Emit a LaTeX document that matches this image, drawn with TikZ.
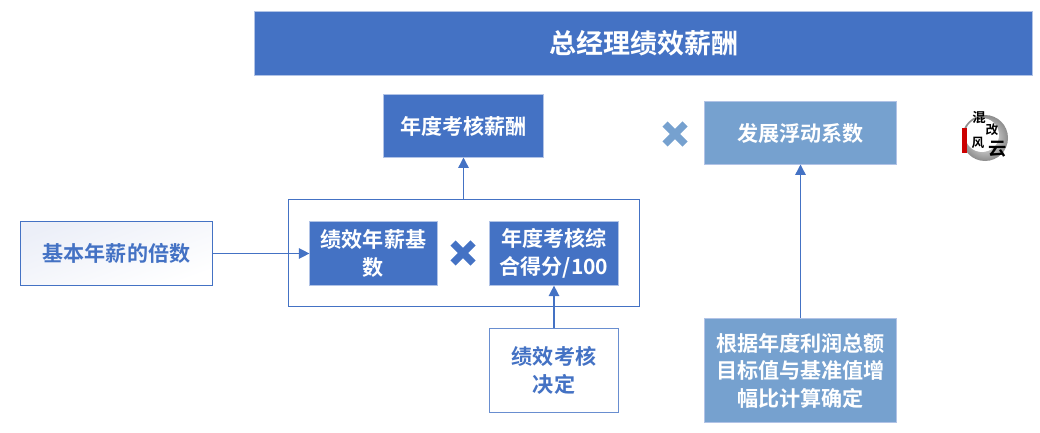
\documentclass[tikz,border=0pt]{standalone}
\usepackage{fontspec}
\setmainfont{Noto Sans CJK SC}[BoldFont={Noto Sans CJK SC Bold}]
\usetikzlibrary{arrows.meta}
\definecolor{darkblue}{HTML}{4472C4}
\definecolor{lightblue}{HTML}{76A1CF}
\definecolor{edgeblue}{HTML}{8FAADC}
\definecolor{paleblue}{HTML}{ECEFF8}
\tikzset{
	box/.style={draw=#1, line width=0.7pt, align=center, inner sep=0pt, font=\fontsize{15}{19.5}\selectfont\bfseries},
	solidbox/.style={box=edgeblue!70, fill=darkblue, text=white},
	floatbox/.style={box=edgeblue!70, fill=lightblue, text=white},
	plainbox/.style={box=darkblue!80, fill=white, text=darkblue},
	link/.style={draw=darkblue, line width=1pt, -{Triangle[length=2.6mm,width=2.6mm]}},
	times/.style={line width=5.2pt, color=#1},
	logotext/.style={text=black, inner sep=0pt, font=\fontsize{#1}{#1}\selectfont\bfseries}
}
\def\timesmark[#1](#2,#3){\draw[times=#1] (#2-10,#3-10) -- (#2+10,#3+10) (#2-10,#3+10) -- (#2+10,#3-10);}
\begin{document}
\begin{tikzpicture}[x=0.025cm, y=-0.025cm]
		%%%%% START %%%%%
		\useasboundingbox (0,0) rectangle (1040,433);
		
		\node[solidbox, minimum width=19.43cm, minimum height=1.58cm, font=\fontsize{19.2}{24}\selectfont\bfseries] (title) at (643.5,43.5) {总经理绩效薪酬};
		
		\node[solidbox, minimum width=3.98cm, minimum height=1.55cm] (annual) at (463.5,126) {年度考核薪酬};
		\node[floatbox, minimum width=4.78cm, minimum height=1.55cm] (float) at (800.5,133) {发展浮动系数};
		\timesmark[lightblue](675,134);
		
		\node[draw=darkblue, line width=0.7pt, minimum width=8.75cm, minimum height=2.65cm, inner sep=0pt] (outer) at (464,253) {};
		\node[box=darkblue, left color=paleblue, right color=white, shading angle=20, text=darkblue, minimum width=4.78cm, minimum height=1.58cm] (times) at (116.5,253.5) {基本年薪的倍数};
		\node[solidbox, minimum width=3.18cm, minimum height=1.58cm] (base) at (373.5,253.5) {绩效年薪基\\数};
		\timesmark[darkblue](463,253);
		\node[solidbox, minimum width=3.2cm, minimum height=1.58cm] (score) at (554,253.5) {年度考核综\\合得分/100};
		\node[plainbox, minimum width=3.2cm, minimum height=2.12cm] (decide) at (554,370.5) {绩效考核\\决定};
		\node[floatbox, minimum width=4.78cm, minimum height=2.62cm] (profit) at (800.5,370.5) {根据年度利润总额\\目标值与基准值增\\幅比计算确定};
		
		\draw[link] (annual |- outer.north) -- (annual.south);
		\draw[link] (times.east) -- (base.west);
		\draw[link] (decide.north) -- (score.south);
		\draw[link] (profit.north) -- (float.south);
		
		% logo
		\shade[inner color=white, outer color=black!45] (985,138) circle (23);
		\fill[white] (982,135) circle (17);
		\fill[red!80!black] (962,128) rectangle (967,153);
		\node[logotext=9.5] (hun) at (979,118) {混};
		\node[logotext=9] (gai) at (992,130) {改};
		\node[logotext=9] (feng) at (978,143) {风};
		\node[logotext=13] (yun) at (998,149) {云};
		%%%%% END %%%%%
	\end{tikzpicture}
\end{document}
